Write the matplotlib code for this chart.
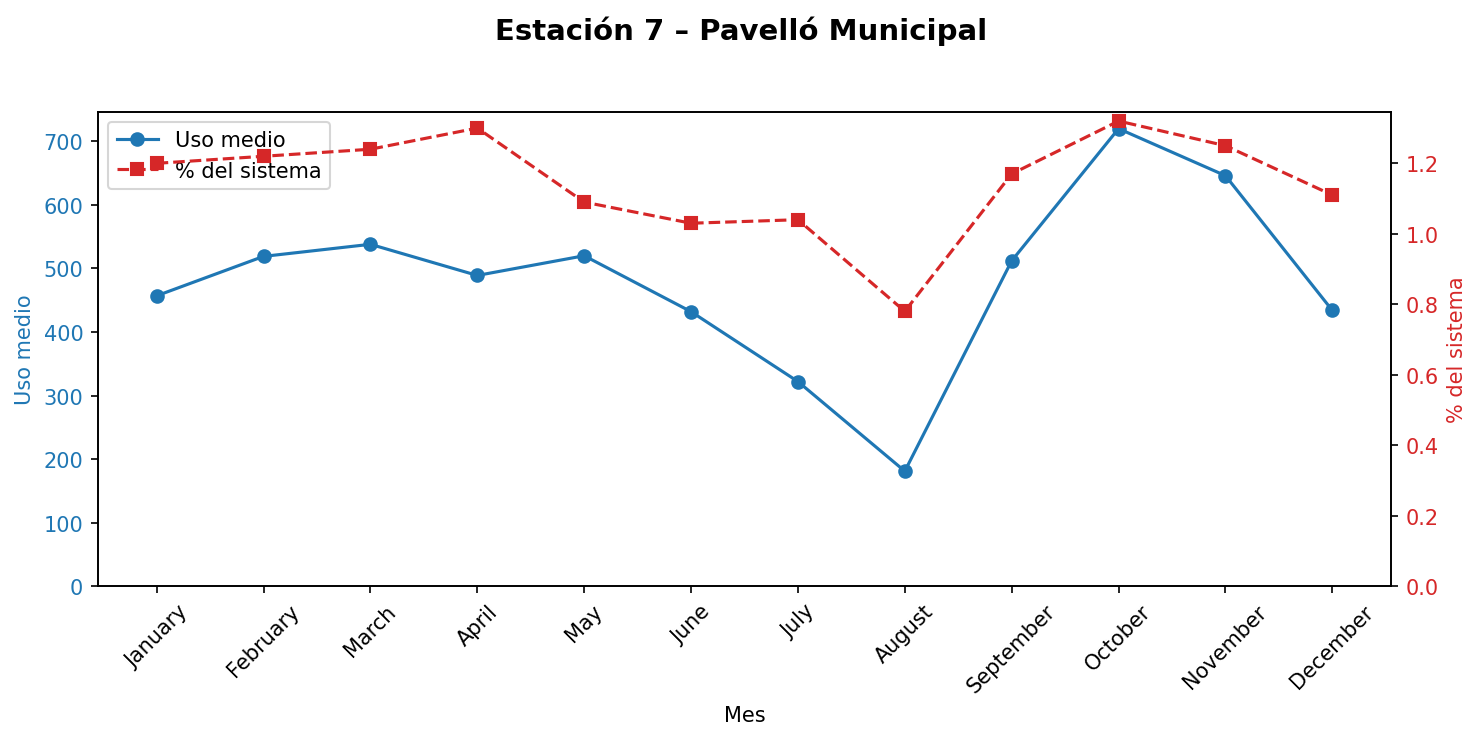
import matplotlib.pyplot as plt

months = ['January', 'February', 'March', 'April', 'May', 'June',
          'July', 'August', 'September', 'October', 'November', 'December']
uso_medio = [457, 519, 538, 489, 520, 432, 322, 181, 512, 720, 646, 434]
pct_sistema = [1.20, 1.22, 1.24, 1.30, 1.09, 1.03, 1.04, 0.78, 1.17, 1.32, 1.25, 1.11]

fig, ax = plt.subplots(figsize=(9.887, 4.933), dpi=150)
ax2 = ax.twinx()

l1, = ax.plot(months, uso_medio, marker='o', color='tab:blue', label='Uso medio')
l2, = ax2.plot(months, pct_sistema, marker='s', linestyle='--', color='tab:red', label='% del sistema')

ax.set_ylim(bottom=0)
ax2.set_ylim(bottom=0)

ax.set_xlabel('Mes')
ax.set_ylabel('Uso medio', color='tab:blue')
ax2.set_ylabel('% del sistema', color='tab:red')
ax.tick_params(axis='y', labelcolor='tab:blue')
ax2.tick_params(axis='y', labelcolor='tab:red')
plt.setp(ax.get_xticklabels(), rotation=45)

ax.legend([l1, l2], ['Uso medio', '% del sistema'], loc='upper left')
fig.suptitle('Estación 7 – Pavelló Municipal', fontweight='bold', fontsize=14, y=0.978)

fig.subplots_adjust(left=0.066, right=0.938, top=0.848, bottom=0.2065)
fig.savefig('out.png')
